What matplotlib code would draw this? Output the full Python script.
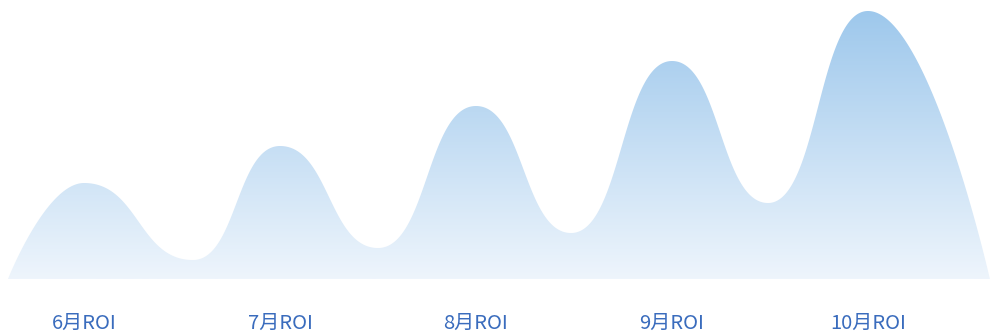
import numpy as np
import matplotlib
matplotlib.use("Agg")
import matplotlib.pyplot as plt
from matplotlib.colors import LinearSegmentedColormap

plt.rcParams['font.family'] = ['Noto Sans CJK SC', 'DejaVu Sans']

# ---- data ----
categories = ["6月ROI", "7月ROI", "8月ROI", "9月ROI", "10月ROI"]
peak_values = [96, 133, 173, 218, 268]
valley_values = [19, 31, 46, 76]
valley_pos = [0.556, 1.50, 2.485, 3.49]
start_pos, end_pos = -0.388, 4.622

# build key points (x in category units)
xs = [start_pos]
ys = [0.0]
for i, p in enumerate(peak_values):
    xs.append(float(i)); ys.append(float(p))
    if i < len(valley_values):
        xs.append(valley_pos[i]); ys.append(float(valley_values[i]))
xs.append(end_pos); ys.append(0.0)
xs = np.array(xs); ys = np.array(ys)

# smooth curve: cubic Bezier segments with horizontal handles at extrema
a = 0.5
n = len(xs)
cx, cy = [], []
t = np.linspace(0, 1, 300)[:, None]
for k in range(n - 1):
    h = xs[k + 1] - xs[k]
    P0 = np.array([xs[k], ys[k]])
    P3 = np.array([xs[k + 1], ys[k + 1]])
    P1 = P0.copy() if k == 0 else np.array([xs[k] + a * h, ys[k]])
    P2 = P3.copy() if k == n - 2 else np.array([xs[k + 1] - a * h, ys[k + 1]])
    B = ((1 - t) ** 3) * P0 + 3 * ((1 - t) ** 2) * t * P1 + 3 * (1 - t) * t ** 2 * P2 + t ** 3 * P3
    cx.append(B[:, 0]); cy.append(B[:, 1])
cx = np.concatenate(cx); cy = np.concatenate(cy)

fig = plt.figure(figsize=(9.9, 3.34), dpi=100)
ax = fig.add_axes([0, 55 / 334, 1, 279 / 334])
ax.set_xlim(-84 / 196, (990 - 84) / 196)
ax.set_ylim(0, 279)
ax.axis('off')

cmap = LinearSegmentedColormap.from_list('g', ['#eef5fc', '#9ec8ec'])
grad = np.linspace(0, 1, 256).reshape(-1, 1)
top = max(peak_values)
im = ax.imshow(grad, aspect='auto', cmap=cmap, origin='lower',
               extent=[start_pos, end_pos, 0, top], zorder=1)
poly, = ax.fill(np.r_[cx, end_pos, start_pos], np.r_[cy, 0, 0],
                facecolor='none', edgecolor='none')
im.set_clip_path(poly)

for i, c in enumerate(categories):
    ax.text(i, -44, c, ha='center', va='center', fontsize=14.5,
            color='#3a6cbd', fontweight='light',
            family=['Noto Sans CJK SC', 'DejaVu Sans'], clip_on=False)

fig.savefig('out.png', dpi=100)
